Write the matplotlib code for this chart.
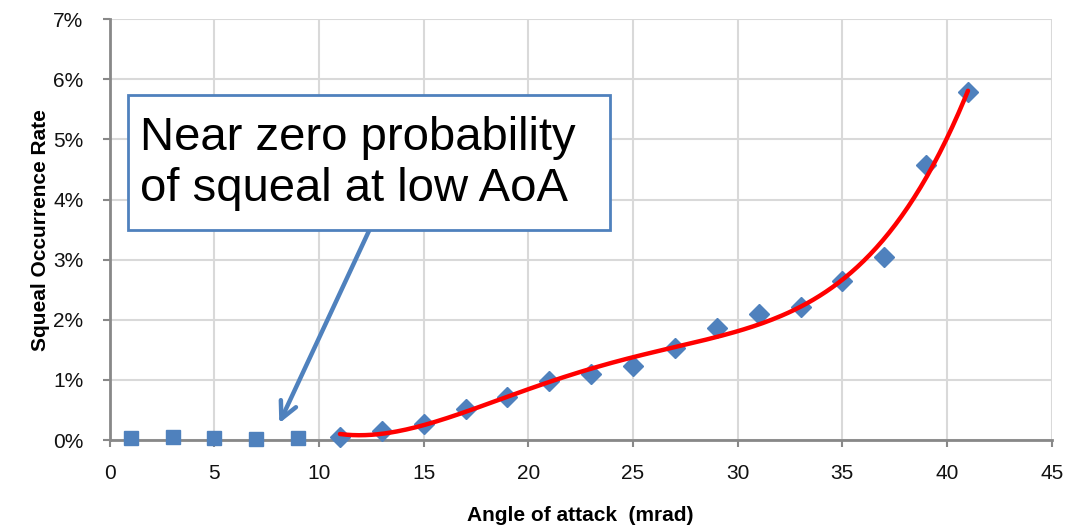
import matplotlib.pyplot as plt
import numpy as np
from matplotlib.patches import Rectangle

plt.rcParams['font.family'] = ['Liberation Sans', 'DejaVu Sans']

# Low angle points (near zero squeal)
low_aoa = [1, 3, 5, 7, 9]
low_rate = [0.03, 0.05, 0.03, 0.02, 0.03]

# Measured squeal occurrence (%)
aoa = [11, 13, 15, 17, 19, 21, 23, 25, 27, 29, 31, 33, 35, 37, 39, 41]
rate = [0.05, 0.16, 0.27, 0.51, 0.71, 0.99, 1.10, 1.23, 1.53, 1.87, 2.09, 2.21, 2.65, 3.04, 4.57, 5.79]

x_ticks = [0, 5, 10, 15, 20, 25, 30, 35, 40, 45]
y_ticks = [0, 1, 2, 3, 4, 5, 6, 7]

blue = '#4F81BD'

fig = plt.figure(figsize=(10.82, 5.29), dpi=100)
ax = fig.add_axes([0.1014, 0.168, 0.8706, 0.796])

ax.plot(low_aoa, low_rate, 's', color=blue, markersize=9.5, zorder=3, clip_on=False)
ax.plot(aoa, rate, 'D', color=blue, markersize=10, zorder=3, clip_on=False)

# polynomial trendline through the measured points
coef = np.polyfit(aoa, rate, 4)
xs = np.linspace(aoa[0], aoa[-1], 200)
ax.plot(xs, np.polyval(coef, xs), color='#FF0000', linewidth=3.2, zorder=4,
        solid_capstyle='round')

ax.set_xlim(0, 45)
ax.set_ylim(0, 7)
ax.set_xticks(x_ticks)
ax.set_yticks(y_ticks)
ax.set_yticklabels([f'{v}%' for v in y_ticks])
ax.grid(True, color='#D9D9D9', linewidth=1.5)
ax.set_axisbelow(True)

for side in ['top', 'right']:
    ax.spines[side].set_visible(False)
for side in ['left', 'bottom']:
    ax.spines[side].set_color('#888888')
    ax.spines[side].set_linewidth(2)
ax.tick_params(axis='both', colors='#888888', length=5, width=1.5,
               labelsize=15, labelcolor='#111111')
ax.tick_params(axis='x', pad=12)
ax.tick_params(axis='y', pad=14)

ax.set_xlabel('Angle of attack  (mrad)', fontsize=15, fontweight='bold', labelpad=17)
ax.set_ylabel('Squeal Occurrence Rate', fontsize=15, fontweight='bold', labelpad=2)

# callout box and arrow
ax.add_patch(Rectangle((0.87, 3.49), 23.03, 2.25, facecolor='white',
                       edgecolor=blue, linewidth=2, zorder=6))
ax.annotate('', xy=(8.1, 0.28), xytext=(12.4, 3.49),
            arrowprops=dict(arrowstyle='->,head_length=1.2,head_width=0.6',
                            color=blue, lw=3.2, shrinkA=0, shrinkB=0), zorder=5)
ax.text(1.45, 4.6, 'Near zero probability\nof squeal at low AoA', fontsize=34,
        ha='left', va='center', linespacing=1.2, zorder=7)

fig.savefig('out.png', dpi=100)
